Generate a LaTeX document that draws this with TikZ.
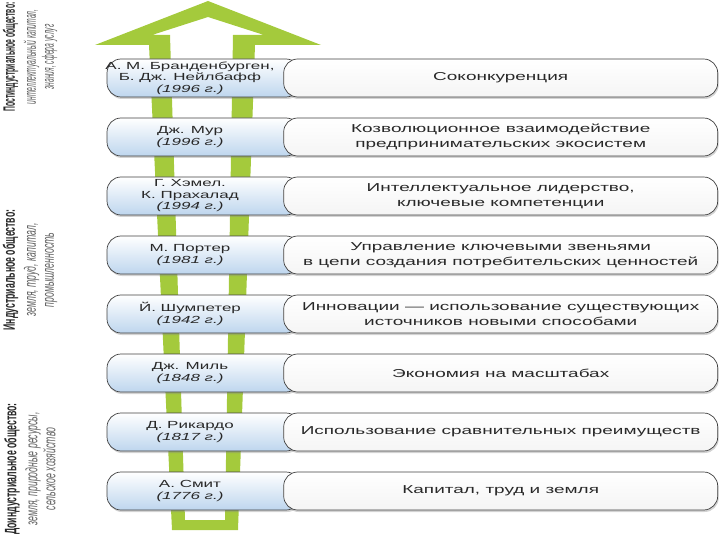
\documentclass[tikz,border=0pt]{standalone}
\usepackage{fontspec}
\setmainfont{Liberation Sans}
\newfontfamily\boxfont[FakeStretch=1.65]{Liberation Sans}
\newfontfamily\erafont[FakeStretch=0.53]{Liberation Sans}
\newfontfamily\erafonttight[FakeStretch=0.41]{Liberation Sans}
\usetikzlibrary{positioning,shadows}

\definecolor{arrowgreen}{RGB}{164,202,60}
\definecolor{paleblue}{RGB}{190,214,238}
\definecolor{inkgray}{RGB}{40,40,40}

\newcommand{\erasub}[1]{{\color{black!62}\itshape #1}}

\begin{document}
\begin{tikzpicture}[
    x=1pt, y=-1pt,
    node distance=20.3pt,
    whobox/.style={
        draw=black!75, line width=0.7pt, rounded corners=14pt,
        minimum width=193pt, minimum height=38pt, inner sep=0pt,
        top color=white, bottom color=paleblue,
        drop shadow={opacity=0.35, shadow xshift=1pt, shadow yshift=-2pt}
    },
    whatbox/.style={
        draw=black!75, line width=0.7pt, rounded corners=14pt,
        minimum width=434pt, minimum height=38pt, inner sep=0pt,
        top color=white, bottom color=black!4,
        drop shadow={opacity=0.35, shadow xshift=1pt, shadow yshift=-2pt},
        align=center, text=inkgray,
        font=\boxfont\fontsize{11.5}{15.5}\selectfont
    },
    who/.style={
        align=center, inner sep=0pt, text=inkgray,
        font=\boxfont\fontsize{10.3}{11.5}\selectfont
    },
    era/.style={
        rotate=90, align=center, inner sep=0pt, text=inkgray,
        font=\erafont\fontsize{16.5}{18}\selectfont
    }
]
    \useasboundingbox (0,0) rectangle (720,540);

    % Hollow green arrow behind the rows
    \fill[arrowgreen, even odd rule]
        (172,530) -- (149,45) -- (95,45) -- (208,1) -- (321,45) -- (255,45) -- (238,530) -- cycle
        (185,520) -- (170,35) -- (152,35) -- (208,17) -- (264,35) -- (233,35) -- (225,520) -- cycle;

    % Society labels on the left
    \node[era, font=\erafonttight\fontsize{16.5}{18}\selectfont] (post) at (30,57)
        {\textbf{Постиндустриальное общество:}\\[3pt] \erasub{интеллектуальный капитал,}\\ \erasub{знания, сфера услуг}};
    \node[era] (indus) at (30,270)
        {\textbf{Индустриальное общество:}\\[3pt] \erasub{земля, труд, капитал,}\\ \erasub{промышленность}};
    \node[era] (preind) at (30,469)
        {\textbf{Доиндустриальное общество:}\\[3pt] \erasub{земля, природные ресурсы,}\\ \erasub{сельское хозяйство}};

    % Author boxes
    \node[whobox] (whobox1) at (203.5,78) {};
    \node[whobox] (whobox2) [below=of whobox1] {};
    \node[whobox] (whobox3) [below=of whobox2] {};
    \node[whobox] (whobox4) [below=of whobox3] {};
    \node[whobox] (whobox5) [below=of whobox4] {};
    \node[whobox] (whobox6) [below=of whobox5] {};
    \node[whobox] (whobox7) [below=of whobox6] {};
    \node[whobox] (whobox8) [below=of whobox7] {};

    % Idea boxes
    \node[whatbox] (what1) [right=-17pt of whobox1] {Соконкуренция};
    \node[whatbox] (what2) [right=-17pt of whobox2] {Козволюционное взаимодействие\\предпринимательских экосистем};
    \node[whatbox] (what3) [right=-17pt of whobox3] {Интеллектуальное лидерство,\\ключевые компетенции};
    \node[whatbox] (what4) [right=-17pt of whobox4] {Управление ключевыми звеньями\\в цепи создания потребительских ценностей};
    \node[whatbox] (what5) [right=-17pt of whobox5] {Инновации — использование существующих\\источников новыми способами};
    \node[whatbox] (what6) [right=-17pt of whobox6] {Экономия на масштабах};
    \node[whatbox] (what7) [right=-17pt of whobox7] {Использование сравнительных преимуществ};
    \node[whatbox] (what8) [right=-17pt of whobox8] {Капитал, труд и земля};

    % Author names
    \node[who] (who1) at ([xshift=-13.5pt]whobox1.center) {А. М. Бранденбурген,\\Б. Дж. Нейлбафф\\\textit{(1996 г.)}};
    \node[who] (who2) at ([xshift=-13.5pt]whobox2.center) {Дж. Мур\\\textit{(1996 г.)}};
    \node[who] (who3) at ([xshift=-13.5pt]whobox3.center) {Г. Хэмел.\\К. Прахалад\\\textit{(1994 г.)}};
    \node[who] (who4) at ([xshift=-13.5pt]whobox4.center) {М. Портер\\\textit{(1981 г.)}};
    \node[who] (who5) at ([xshift=-13.5pt]whobox5.center) {Й. Шумпетер\\\textit{(1942 г.)}};
    \node[who] (who6) at ([xshift=-13.5pt]whobox6.center) {Дж. Миль\\\textit{(1848 г.)}};
    \node[who] (who7) at ([xshift=-13.5pt]whobox7.center) {Д. Рикардо\\\textit{(1817 г.)}};
    \node[who] (who8) at ([xshift=-13.5pt]whobox8.center) {А. Смит\\\textit{(1776 г.)}};

\end{tikzpicture}
\end{document}
